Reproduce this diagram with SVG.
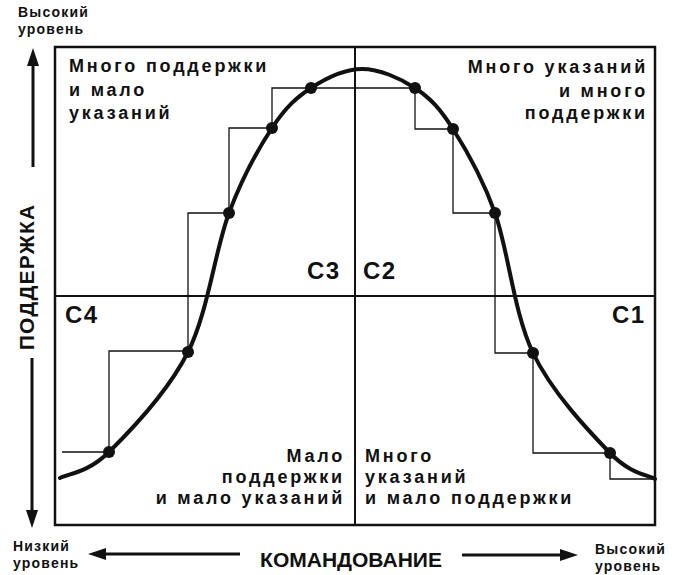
<svg xmlns="http://www.w3.org/2000/svg" width="676" height="575" viewBox="0 0 676 575">
<style>
.q{font-family:"Liberation Sans",Arial,sans-serif;font-weight:bold;font-size:18px;letter-spacing:2.8px;fill:#111}
.c{font-family:"Liberation Sans",Arial,sans-serif;font-weight:bold;font-size:24px;letter-spacing:1.5px;fill:#111}
.s{font-family:"Liberation Sans",Arial,sans-serif;font-weight:bold;font-size:14px;letter-spacing:1.2px;fill:#111}
.ax{font-family:"Liberation Sans",Arial,sans-serif;font-weight:bold;font-size:21px;fill:#111}
.step{fill:none;stroke:#111;stroke-width:1.3}
.dot{fill:#111}
.arr{stroke:#111;stroke-width:3;fill:none}
</style>
<rect width="676" height="575" fill="#fff"/>
<g id="frame" fill="none" stroke="#111">
<rect x="55" y="47" width="600" height="478" stroke-width="2.5"/>
<line x1="355" y1="47" x2="355" y2="525" stroke-width="2"/>
<line x1="55" y1="296" x2="655" y2="296" stroke-width="2"/>
</g>
<g id="connectors">
<polyline class="step" points="62,452 109,452 109,351 188,351 188,213 229,213 229,128 272,128 272,88 415,88 415,129 453,129 453,213 495,213 495,353 533,353 533,453 610,453 610,479 655,479"/>
<path d="M60,478 C68.2,473.7 87.7,473 109,452 C130.3,431 168,391.8 188,352 C208,312.2 215,250.3 229,213 C243,175.7 258.3,148.8 272,128 C285.7,107.2 296,97.8 311,88 C326,78.2 344.7,69 362,69 C379.3,69 399.8,78 415,88 C430.2,98 439.7,108.2 453,129 C466.3,149.8 481.7,175.7 495,213 C508.3,250.3 513.8,313 533,353 C552.2,393 589.7,432 610,453 C630.3,474 647.5,474.7 655,479" fill="none" stroke="#111" stroke-width="4" stroke-linecap="round"/>
</g>
<g id="dots">
<circle class="dot" cx="109" cy="452" r="6"/>
<circle class="dot" cx="188" cy="352" r="6"/>
<circle class="dot" cx="229" cy="213" r="6"/>
<circle class="dot" cx="272" cy="128" r="6"/>
<circle class="dot" cx="311" cy="88" r="6"/>
<circle class="dot" cx="415" cy="88" r="6"/>
<circle class="dot" cx="453" cy="129" r="6"/>
<circle class="dot" cx="495" cy="213" r="6"/>
<circle class="dot" cx="533" cy="353" r="6"/>
<circle class="dot" cx="610" cy="453" r="6"/>
</g>
<g id="q-s3">
<text class="q" x="69" y="72">Много поддержки</text>
<text class="q" x="69" y="96">и мало</text>
<text class="q" x="69" y="119">указаний</text>
</g>
<g id="q-s2">
<text class="q" x="648" y="73" text-anchor="end">Много указаний</text>
<text class="q" x="648" y="97" text-anchor="end">и много</text>
<text class="q" x="648" y="119" text-anchor="end">поддержки</text>
</g>
<g id="q-s4">
<text class="q" x="345" y="462" text-anchor="end">Мало</text>
<text class="q" x="345" y="483" text-anchor="end">поддержки</text>
<text class="q" x="345" y="504" text-anchor="end">и мало указаний</text>
</g>
<g id="q-s1">
<text class="q" x="365" y="462">Много</text>
<text class="q" x="365" y="483">указаний</text>
<text class="q" x="365" y="504">и мало поддержки</text>
</g>
<g id="labels-c">
<text class="c" x="307" y="279">C3</text>
<text class="c" x="363" y="279">C2</text>
<text class="c" x="65" y="323">C4</text>
<text class="c" x="612" y="323">C1</text>
</g>
<g id="axis-y">
<text class="s" x="18" y="17">Высокий</text>
<text class="s" x="18" y="34">уровень</text>
<line class="arr" x1="33" y1="62" x2="33" y2="167"/>
<polygon points="33,48 27,66 39,66" fill="#111"/>
<line class="arr" x1="32" y1="358" x2="32" y2="514"/>
<polygon points="32,528 26,510 38,510" fill="#111"/>
<text class="ax" transform="translate(34,277) rotate(-90)" text-anchor="middle" letter-spacing="1.2">ПОДДЕРЖКА</text>
</g>
<g id="axis-x">
<text class="s" x="13" y="551">Низкий</text>
<text class="s" x="13" y="568">уровень</text>
<line class="arr" x1="102" y1="554" x2="240" y2="554"/>
<polygon points="88,554 106,548 106,560" fill="#111"/>
<text class="ax" x="351" y="567" text-anchor="middle">КОМАНДОВАНИЕ</text>
<line class="arr" x1="462" y1="555" x2="564" y2="555"/>
<polygon points="578,555 560,549 560,561" fill="#111"/>
<text class="s" x="595" y="554">Высокий</text>
<text class="s" x="595" y="571">уровень</text>
</g>
</svg>
